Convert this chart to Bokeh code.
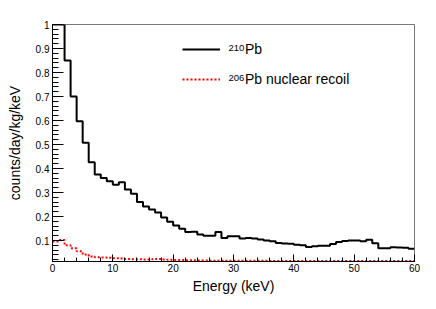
import numpy as np
from bokeh.plotting import figure
from bokeh.models import (Range1d, SingleIntervalTicker, CustomJSTickFormatter,
                          Legend, LegendItem, Label)
from bokeh.embed import file_html
from bokeh.resources import INLINE

# ---- data (1 keV bins, 0..60 keV) ----
bin_edges = list(range(0, 61))
pb210 = [1.0, 1.0, 0.85, 0.70, 0.597, 0.507, 0.426, 0.375, 0.36, 0.347,
         0.332, 0.343, 0.312, 0.295, 0.26, 0.242, 0.229, 0.217, 0.196, 0.178,
         0.163, 0.149, 0.135, 0.136, 0.125, 0.12, 0.12, 0.135, 0.11, 0.118,
         0.118, 0.108, 0.11, 0.108, 0.104, 0.1, 0.097, 0.09, 0.088, 0.086,
         0.082, 0.08, 0.073, 0.076, 0.078, 0.078, 0.085, 0.094, 0.098, 0.1,
         0.1, 0.097, 0.103, 0.089, 0.068, 0.068, 0.072, 0.071, 0.07, 0.066]
pb206_recoil = [0.096, 0.102, 0.08, 0.068, 0.055, 0.042, 0.033, 0.03, 0.029, 0.028,
                0.026, 0.025, 0.023, 0.022, 0.022, 0.021, 0.022, 0.023, 0.021, 0.02,
                0.019, 0.019, 0.018, 0.018, 0.017, 0.017, 0.016, 0.016, 0.016, 0.016,
                0.016, 0.016, 0.016, 0.016, 0.016, 0.016, 0.015, 0.015, 0.015, 0.015,
                0.015, 0.015, 0.015, 0.015, 0.015, 0.015, 0.015, 0.015, 0.015, 0.015,
                0.015, 0.015, 0.015, 0.015, 0.015, 0.015, 0.015, 0.015, 0.015, 0.015]
mass_210 = "210"
mass_206 = "206"
label_210 = "Pb"
label_206 = "Pb nuclear recoil"
x_title = "Energy (keV)"
y_title = "counts/day/kg/keV"

FONT = "Liberation Sans"
X0, X1 = 0, 60
Y0, Y1 = 0.0125, 1.0
FRAME_W, FRAME_H = 362, 237
BL, BR, BT, BB = 52, 6, 24, 32

p = figure(frame_width=FRAME_W, frame_height=FRAME_H,
           output_backend="svg", toolbar_location=None,
           x_range=Range1d(X0, X1), y_range=Range1d(Y0, Y1),
           min_border_left=BL, min_border_right=BR, min_border_top=BT,
           min_border_bottom=BB)
p.grid.visible = False
p.outline_line_color = "#777777"
p.outline_line_width = 1
p.background_fill_color = "white"
p.border_fill_color = "white"

def step_xy(vals):
    return bin_edges, list(vals) + [vals[-1]]

x1, y1 = step_xy(pb210)
x2, y2 = step_xy(pb206_recoil)
r1 = p.step(x1, y1, mode="after", line_color="black", line_width=2)
r2 = p.step(x2, y2, mode="after", line_color="red", line_width=2, line_dash="2 2")

p.xaxis.ticker = SingleIntervalTicker(interval=10, num_minor_ticks=5)
p.yaxis.ticker = SingleIntervalTicker(interval=0.1, num_minor_ticks=5)
p.yaxis.formatter = CustomJSTickFormatter(code="return tick.toFixed(1).replace(/\\.0$/, '');")

for ax in (p.xaxis[0], p.yaxis[0]):
    ax.axis_line_color = "black"
    ax.major_tick_line_color = "black"
    ax.minor_tick_line_color = "black"
    ax.major_tick_out = 0
    ax.minor_tick_out = 0
    ax.major_label_text_font = FONT
    ax.major_label_text_font_size = "10px"
    ax.major_label_text_color = "black"
    ax.axis_label_text_font = FONT
    ax.axis_label_text_font_size = "14px"
    ax.axis_label_text_font_style = "normal"
    ax.axis_label_text_color = "black"

p.xaxis.major_tick_in = 7
p.xaxis.minor_tick_in = 4
p.yaxis.major_tick_in = 11
p.yaxis.minor_tick_in = 6
p.xaxis.major_label_standoff = 2
p.yaxis.major_label_standoff = 3
p.xaxis.major_label_text_line_height = 1.0
p.xaxis.axis_label_text_line_height = 1.0
p.xaxis.axis_label = x_title
p.yaxis.axis_label = y_title
p.xaxis.axis_label_standoff = 3
p.yaxis.axis_label_standoff = 10

# legend (no box); mass numbers drawn as superscripts before "Pb"
LEG_X, ROW1, ROW_PITCH, ROW_H = 130, 25, 30, 20  # px from frame left / top
GLYPH_W, SUP_GAP, SUP_W = 38, 8, 17
LEG_H = 2 * ROW_H + (ROW_PITCH - ROW_H)
legend = Legend(items=[LegendItem(label=label_210, renderers=[r1]),
                       LegendItem(label=label_206, renderers=[r2])],
                location=(LEG_X, FRAME_H - (ROW1 - ROW_H // 2) - LEG_H),
                orientation="vertical",
                glyph_width=GLYPH_W, glyph_height=ROW_H, label_height=ROW_H,
                label_standoff=SUP_GAP + SUP_W, spacing=ROW_PITCH - ROW_H,
                padding=0, margin=0,
                border_line_alpha=0, background_fill_alpha=0,
                label_text_font=FONT, label_text_font_size="14px",
                label_text_color="black")
p.add_layout(legend)

def px_to_x(px):
    return X0 + px / FRAME_W * (X1 - X0)

def py_to_y(py):
    return Y1 - py / FRAME_H * (Y1 - Y0)

for i, txt in enumerate([mass_210, mass_206]):
    row_py = ROW1 + i * ROW_PITCH
    p.add_layout(Label(x=px_to_x(LEG_X + GLYPH_W + SUP_GAP), y=py_to_y(row_py - 1.5),
                       text=txt, text_font=FONT, text_font_size="9.5px",
                       text_color="black", text_baseline="alphabetic",
                       text_align="left"))

open("out.html", "w").write(file_html(p, INLINE))
